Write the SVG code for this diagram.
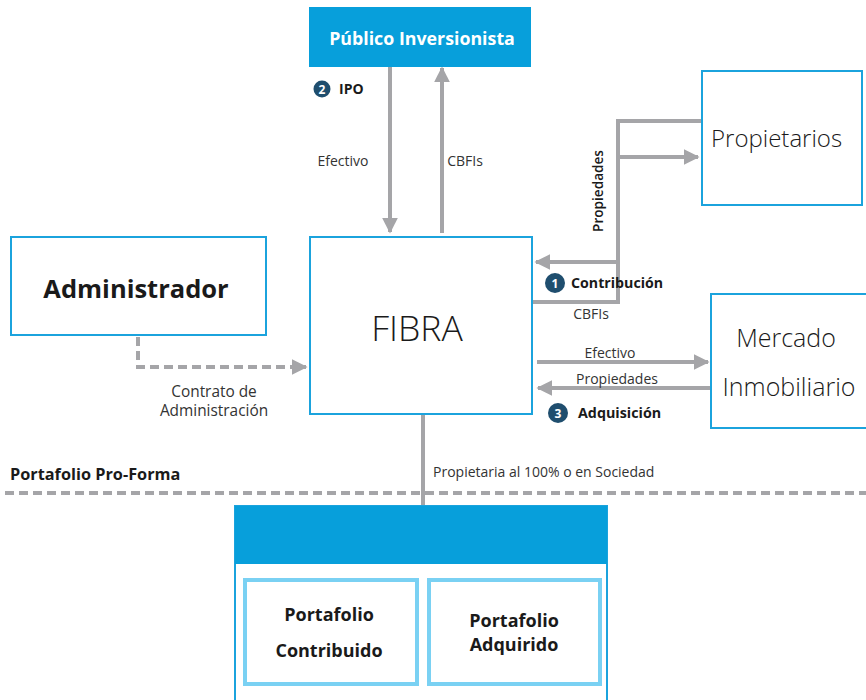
<svg xmlns="http://www.w3.org/2000/svg" width="866" height="700" viewBox="0 0 866 700">
<style>
text{font-family:"Open Sans","Noto Sans","Liberation Sans",sans-serif;fill:#1a1a1a}
.box{fill:#fff;stroke:#1ba3dd;stroke-width:2}
.inner{fill:#fff;stroke:#7ad1f3;stroke-width:4}
.blue{fill:#079fdb}
.ln{stroke:#a5a5a8;stroke-width:4;fill:none}
.dash{stroke:#a5a5a8;stroke-width:4;fill:none;stroke-dasharray:9 5}
.lbl{font-size:14px;fill:#333}
.b{font-weight:700}
.big{font-size:25px;font-weight:300}
.num{fill:#1f4e6e}
.numt{font-size:12px;font-weight:700;fill:#fff}
</style>
<defs>
<marker id="ah" viewBox="0 0 10 10" refX="9" refY="5" markerWidth="4" markerHeight="4" orient="auto" markerUnits="strokeWidth">
<path d="M0,0 L10,5 L0,10 Z" fill="#a5a5a8"/>
</marker>
</defs>

<g id="connectors">
<line class="ln" x1="390" y1="67" x2="390" y2="232" marker-end="url(#ah)"/>
<line class="ln" x1="442" y1="233" x2="442" y2="68" marker-end="url(#ah)"/>
<polyline class="ln" points="702,121 618,121 618,302 533,302"/>
<line class="ln" x1="618" y1="157" x2="698" y2="157" marker-end="url(#ah)"/>
<line class="ln" x1="618" y1="262" x2="536" y2="262" marker-end="url(#ah)"/>
<line class="ln" x1="537" y1="362" x2="708" y2="362" marker-end="url(#ah)"/>
<line class="ln" x1="711" y1="388" x2="538" y2="388" marker-end="url(#ah)"/>
<polyline class="dash" points="138,337 138,367 306,367" marker-end="url(#ah)"/>
<line class="ln" x1="423" y1="414" x2="423" y2="506"/>
<line class="dash" x1="5" y1="493" x2="866" y2="493"/>
</g>

<g id="publico">
<rect class="blue" x="309" y="7" width="222" height="60"/>
<text x="422" y="45" text-anchor="middle" style="fill:#fff;font-size:17.8px;font-weight:700">Público Inversionista</text>
</g>

<g id="ipo-label">
<circle class="num" cx="322" cy="89" r="8.5"/>
<text class="numt" x="322" y="93.5" text-anchor="middle">2</text>
<text x="339" y="94" class="b" style="font-size:14px">IPO</text>
<text class="lbl" x="343" y="166" text-anchor="middle">Efectivo</text>
<text class="lbl" x="465" y="166" text-anchor="middle">CBFIs</text>
</g>

<g id="administrador">
<rect class="box" x="11" y="237" width="255" height="98"/>
<text x="136" y="298" text-anchor="middle" style="font-size:25.5px;font-weight:700">Administrador</text>
</g>

<g id="fibra">
<rect class="box" x="310" y="237" width="222" height="177"/>
<text x="417" y="341" text-anchor="middle" style="font-size:35.5px;font-weight:300">FIBRA</text>
</g>

<g id="contrato-label">
<text class="lbl" x="214" y="397" text-anchor="middle" style="font-size:15.4px">Contrato de</text>
<text class="lbl" x="214" y="416" text-anchor="middle" style="font-size:15.4px">Administración</text>
</g>

<g id="propietarios">
<rect class="box" x="702" y="71" width="160" height="134"/>
<text x="711" y="147" style="font-size:24px;font-weight:300">Propietarios</text>
</g>

<g id="contribucion-label">
<text x="603" y="191" text-anchor="middle" transform="rotate(-90 603 191)" style="font-size:13.6px;font-weight:600">Propiedades</text>
<circle class="num" cx="555" cy="283" r="10"/>
<text class="numt" x="555" y="287.5" text-anchor="middle">1</text>
<text x="571" y="288" class="b" style="font-size:14.2px">Contribución</text>
<text class="lbl" x="591" y="319" text-anchor="middle">CBFIs</text>
</g>

<g id="mercado">
<rect class="box" x="711" y="294" width="160" height="134"/>
<text class="big" x="786" y="347" text-anchor="middle">Mercado</text>
<text class="big" x="789" y="396" text-anchor="middle">Inmobiliario</text>
</g>

<g id="adquisicion-label">
<text class="lbl" x="610" y="358" text-anchor="middle">Efectivo</text>
<text class="lbl" x="617" y="384" text-anchor="middle">Propiedades</text>
<circle class="num" cx="558" cy="413" r="10"/>
<text class="numt" x="558" y="417.5" text-anchor="middle">3</text>
<text x="578" y="418" class="b" style="font-size:14.3px">Adquisición</text>
</g>

<g id="proforma-label">
<text class="lbl" x="433" y="477">Propietaria al 100% o en Sociedad</text>
<text x="10" y="480" class="b" style="font-size:16.3px">Portafolio Pro-Forma</text>
</g>

<g id="portafolio">
<rect class="box" x="235" y="506" width="372" height="200"/>
<rect class="blue" x="235" y="506" width="372" height="58"/>
<g id="contribuido">
<rect class="inner" x="245" y="580" width="172" height="104"/>
<text x="329" y="621" text-anchor="middle" class="b" style="font-size:18px">Portafolio</text>
<text x="329" y="657" text-anchor="middle" class="b" style="font-size:18px">Contribuido</text>
</g>
<g id="adquirido">
<rect class="inner" x="429" y="580" width="171" height="104"/>
<text x="514" y="627" text-anchor="middle" class="b" style="font-size:18px">Portafolio</text>
<text x="514" y="651" text-anchor="middle" class="b" style="font-size:18px">Adquirido</text>
</g>
</g>
</svg>
